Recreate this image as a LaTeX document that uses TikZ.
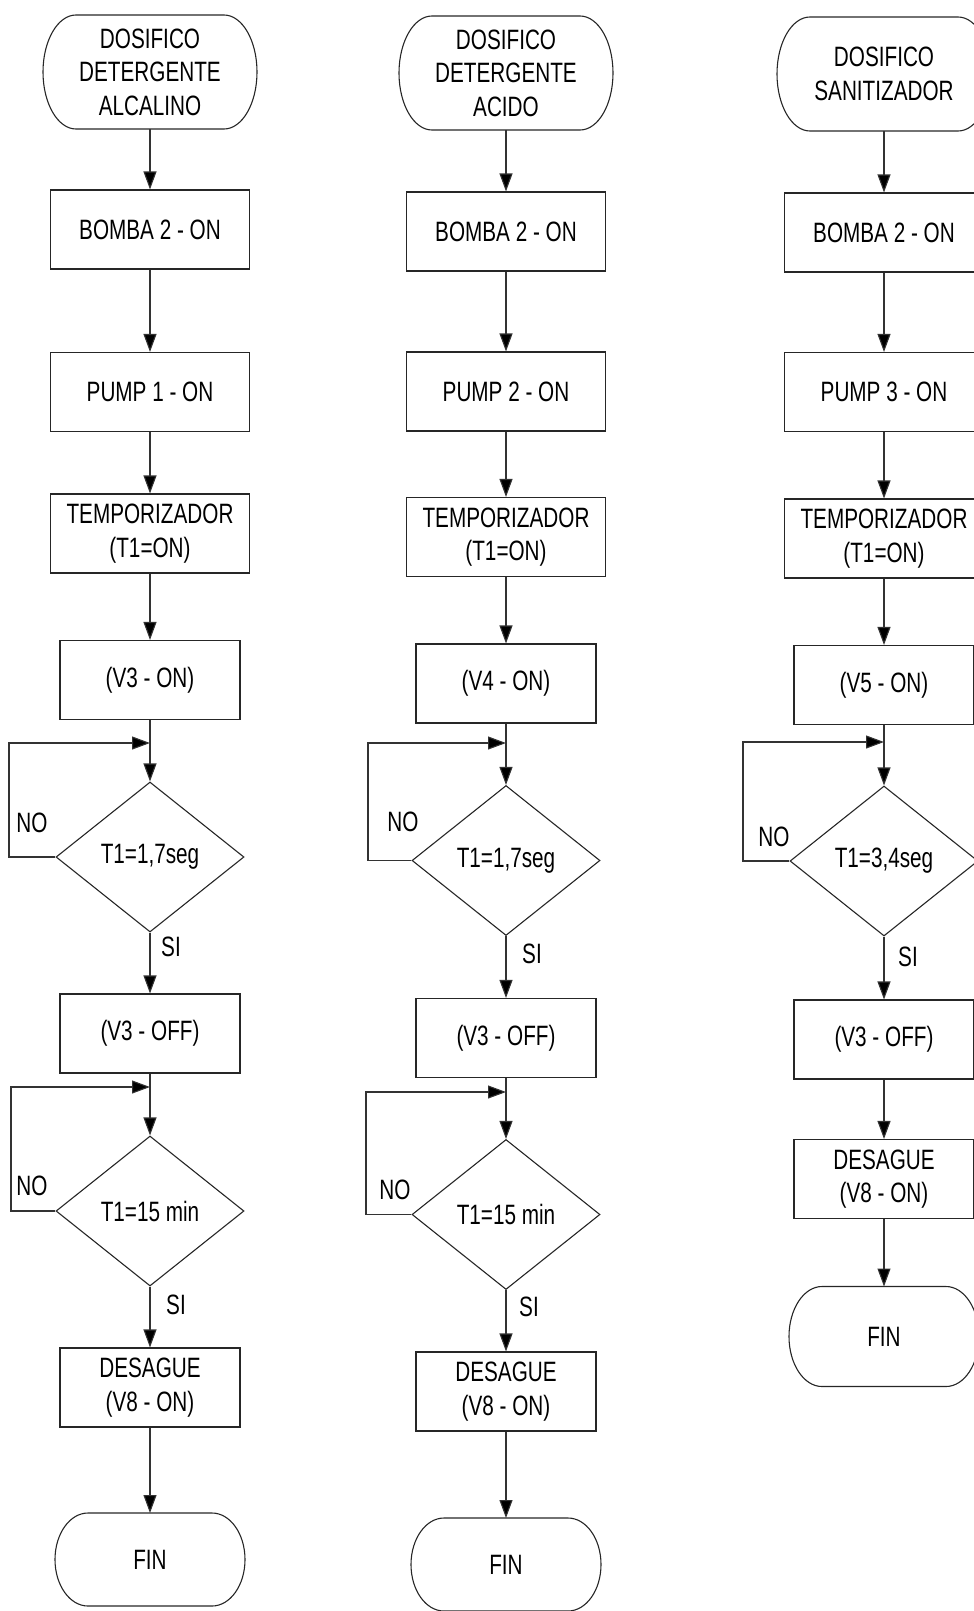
\documentclass[tikz,border=0pt]{standalone}
\usepackage{fontspec}
\setmainfont[FakeStretch=0.74]{Liberation Sans}
\usetikzlibrary{arrows.meta,shapes.geometric}
% outline of a terminal (start/end) node: straight top and bottom, elliptical ends
% #1 node name, #2 half height in pt
\newcommand\termoutline[2]{%
  \draw[draw=black!85] ([xshift=33pt]#1.north west) -- ([xshift=-33pt]#1.north east)
    arc[start angle=90, end angle=-90, x radius=33pt, y radius=#2pt]
    -- ([xshift=33pt]#1.south west)
    arc[start angle=270, end angle=90, x radius=33pt, y radius=#2pt] -- cycle;}
\begin{document}
\begin{tikzpicture}[x=1pt,y=-1pt,
  font=\fontsize{28}{33.5}\selectfont,
  line width=1.1pt,
  every node/.append style={inner sep=0pt},
  proc/.style={draw=black!85, rectangle, minimum width=199pt, minimum height=79pt, align=center},
  procn/.style={proc, minimum width=180pt},
  term/.style={rectangle, outer sep=0pt, minimum width=214pt, minimum height=114pt, align=center},
  fin/.style={term, minimum width=190pt, minimum height=93pt},
  dec/.style={draw=black!85, diamond, minimum width=188pt, minimum height=150pt},
  flow/.style={draw=black!80, -{Triangle[length=18pt,width=13pt,fill=black]}}]
\clip (0,0) rectangle (974,1611);

% ---------- column 1: alkaline detergent ----------
\node[term]  (s1)  at (150,72)     {DOSIFICO\\DETERGENTE\\ALCALINO};
\node[proc]  (b1)  at (150,229.5)  {BOMBA 2 - ON};
\node[proc]  (p1)  at (150,392)    {PUMP 1 - ON};
\node[proc]  (t1)  at (150,533.5)  {TEMPORIZADOR\\(T1=ON)};
\node[procn] (v1)  at (150,680)    {(V3 - ON)};
\node[dec]   (da1) at (150,857)    {T1=1,7seg};
\node[procn] (o1)  at (150,1033.5) {(V3 - OFF)};
\node[dec]   (db1) at (150,1211)   {T1=15 min};
\node[procn] (g1)  at (150,1387.5) {DESAGUE\\(V8 - ON)};
\node[fin]   (f1)  at (150,1559.5) {FIN};
\termoutline{s1}{57}
\termoutline{f1}{46.5}
\coordinate (ja1) at (150,743);  \coordinate (la1) at (9,743);
\coordinate (jb1) at (150,1087); \coordinate (lb1) at (11,1087);
\node (na1) at (32,823)   {NO};
\node (sa1) at (171,947)  {SI};
\node (nb1) at (32,1186)  {NO};
\node (sb1) at (176,1305) {SI};

\draw[flow] (s1) -- (b1);
\draw[flow] (b1) -- (p1);
\draw[flow] (p1) -- (t1);
\draw[flow] (t1) -- (v1);
\draw[flow] (v1) -- (da1);
\draw[flow] (da1.west) -| (la1) -- (ja1);
\draw[flow] (da1) -- (o1);
\draw[flow] (o1) -- (db1);
\draw[flow] (db1.west) -| (lb1) -- (jb1);
\draw[flow] (db1) -- (g1);
\draw[flow] (g1) -- (f1);

% ---------- column 2: acid detergent ----------
\node[term]  (s2)  at (506,73)     {DOSIFICO\\DETERGENTE\\ACIDO};
\node[proc]  (b2)  at (506,231.5)  {BOMBA 2 - ON};
\node[proc]  (p2)  at (506,391.5)  {PUMP 2 - ON};
\node[proc]  (t2)  at (506,537)    {TEMPORIZADOR\\(T1=ON)};
\node[procn] (v2)  at (506,683.5)  {(V4 - ON)};
\node[dec]   (da2) at (506,860.5)  {T1=1,7seg};
\node[procn] (o2)  at (506,1038)   {(V3 - OFF)};
\node[dec]   (db2) at (506,1214.5) {T1=15 min};
\node[procn] (g2)  at (506,1391.5) {DESAGUE\\(V8 - ON)};
\node[fin]   (f2)  at (506,1564.5) {FIN};
\termoutline{s2}{57}
\termoutline{f2}{46.5}
\coordinate (ja2) at (506,743);  \coordinate (la2) at (368,743);
\coordinate (jb2) at (506,1092); \coordinate (lb2) at (366,1092);
\node (na2) at (403,822)  {NO};
\node (sa2) at (532,954)  {SI};
\node (nb2) at (395,1190) {NO};
\node (sb2) at (529,1307) {SI};

\draw[flow] (s2) -- (b2);
\draw[flow] (b2) -- (p2);
\draw[flow] (p2) -- (t2);
\draw[flow] (t2) -- (v2);
\draw[flow] (v2) -- (da2);
\draw[flow] (da2.west) -| (la2) -- (ja2);
\draw[flow] (da2) -- (o2);
\draw[flow] (o2) -- (db2);
\draw[flow] (db2.west) -| (lb2) -- (jb2);
\draw[flow] (db2) -- (g2);
\draw[flow] (g2) -- (f2);

% ---------- column 3: sanitizer ----------
\node[term]  (s3)  at (884,74)     {DOSIFICO\\SANITIZADOR};
\node[proc]  (b3)  at (884,232.5)  {BOMBA 2 - ON};
\node[proc]  (p3)  at (884,392)    {PUMP 3 - ON};
\node[proc]  (t3)  at (884,538.5)  {TEMPORIZADOR\\(T1=ON)};
\node[procn] (v3)  at (884,685)    {(V5 - ON)};
\node[dec]   (da3) at (884,861)    {T1=3,4seg};
\node[procn] (o3)  at (884,1039.5) {(V3 - OFF)};
\node[procn] (g3)  at (884,1179)   {DESAGUE\\(V8 - ON)};
\node[fin, minimum height=100pt] (f3) at (884,1336.5) {FIN};
\termoutline{s3}{57}
\termoutline{f3}{50}
\coordinate (ja3) at (884,742); \coordinate (la3) at (743,742);
\node (na3) at (774,837) {NO};
\node (sa3) at (908,957) {SI};

\draw[flow] (s3) -- (b3);
\draw[flow] (b3) -- (p3);
\draw[flow] (p3) -- (t3);
\draw[flow] (t3) -- (v3);
\draw[flow] (v3) -- (da3);
\draw[flow] (da3.west) -| (la3) -- (ja3);
\draw[flow] (da3) -- (o3);
\draw[flow] (o3) -- (g3);
\draw[flow] (g3) -- (f3);
\end{tikzpicture}
\end{document}
